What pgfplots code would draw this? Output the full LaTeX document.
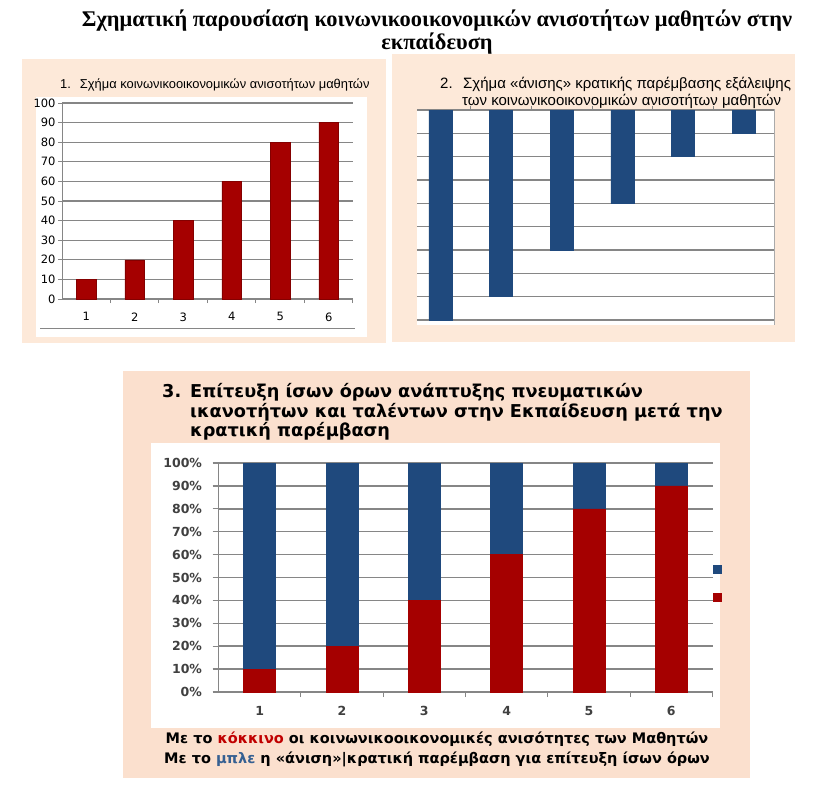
\documentclass[border=0pt]{standalone}
\usepackage{fontspec}
\setmainfont{Liberation Sans}
\newfontfamily\serifb{Liberation Serif}
\newfontfamily\dv{DejaVu Sans}
\usepackage{pgfplots}
\usepackage{pgfplotstable}
\pgfplotsset{compat=1.18}

\definecolor{peachA}{RGB}{253,233,217}
\definecolor{peachB}{RGB}{251,224,206}
\definecolor{barred}{RGB}{165,0,0}
\definecolor{barblue}{RGB}{31,73,125}
\definecolor{gridgray}{RGB}{134,134,134}
\definecolor{capred}{RGB}{192,0,0}
\definecolor{capblue}{RGB}{54,96,146}
\definecolor{ticktxt}{RGB}{64,64,64}

% share of the student (red) and the state intervention (blue), per group
\pgfplotstableread{
k red blue
1 10 90
2 20 80
3 40 60
4 60 40
5 80 20
6 90 10
}\ineq

\begin{document}
\begin{tikzpicture}
\begin{scope}[x=1pt,y=-1pt]
  \fill[white] (0,0) rectangle (832,787);
  \fill[peachA] (22,59) rectangle (386,343);
  \fill[peachA] (392,54) rectangle (795,342);
  \fill[peachB] (123,371) rectangle (750,778);
  \fill[white] (36,97) rectangle (367,337);
  \fill[white] (417,109) rectangle (774,325);
  \fill[white] (151,443) rectangle (720,728);

  \node[anchor=base, inner sep=0, font=\serifb\bfseries\fontsize{22.4}{26}\selectfont] at (437,26)
    {Σχηματική παρουσίαση κοινωνικοοικονομικών ανισοτήτων μαθητών στην};
  \node[anchor=base, inner sep=0, font=\serifb\bfseries\fontsize{22.4}{26}\selectfont] at (437,49)
    {εκπαίδευση};

  \node[anchor=base west, inner sep=0, font=\fontsize{12.9}{15}\selectfont] at (60,88)
    {1.\hspace{0.7em}Σχήμα κοινωνικοοικονομικών ανισοτήτων μαθητών};

  \node[anchor=base west, inner sep=0, font=\fontsize{15}{17}\selectfont] at (440,88)
    {2.\hspace{0.7em}Σχήμα «άνισης» κρατικής παρέμβασης εξάλειψης};
  \node[anchor=base west, inner sep=0, font=\fontsize{15}{17}\selectfont] at (462,105)
    {των κοινωνικοοικονομικών ανισοτήτων μαθητών};

  \node[anchor=base west, inner sep=0, font=\dv\bfseries\fontsize{17.7}{20}\selectfont] at (162,397) {3.};
  \node[anchor=base west, inner sep=0, font=\dv\bfseries\fontsize{17.7}{20}\selectfont] at (190,397)
    {Επίτευξη ίσων όρων ανάπτυξης πνευματικών};
  \node[anchor=base west, inner sep=0, font=\dv\bfseries\fontsize{17.7}{20}\selectfont] at (190,417)
    {ικανοτήτων και ταλέντων στην Εκπαίδευση μετά την};
  \node[anchor=base west, inner sep=0, font=\dv\bfseries\fontsize{17.7}{20}\selectfont] at (190,436)
    {κρατική παρέμβαση};

  \node[anchor=base, inner sep=0, font=\dv\bfseries\fontsize{14.5}{16}\selectfont] at (437,743)
    {Με το \textcolor{capred}{κόκκινο} οι κοινωνικοοικονομικές ανισότητες των Μαθητών};
  \node[anchor=base, inner sep=0, font=\dv\bfseries\fontsize{14.5}{16}\selectfont] at (437,763)
    {Με το \textcolor{capblue}{μπλε} η «άνιση»|κρατική παρέμβαση για επίτευξη ίσων όρων};

  % stray rule under chart 1 and right edge of chart 2
  \draw[gridgray, line width=1pt] (40,328) -- (355,328);
  \draw[gridgray!70, line width=0.8pt] (774,109) -- (774,325);
\end{scope}

% chart 1
\begin{axis}[
  at={(62pt,-299pt)}, anchor=south west,
  scale only axis, width=291pt, height=196pt,
  xmin=0.5, xmax=6.5, ymin=0, ymax=100, enlargelimits=false,
  axis x line=bottom, axis y line=left,
  axis line style={-, draw=gridgray, line width=1pt},
  ymajorgrids, grid style={draw=gridgray, line width=1.2pt},
  xtick={1,...,6}, ytick={0,10,...,100},
  minor xtick={1.5,2.5,...,6.5},
  major x tick style={draw=none},
  tick align=outside, major tick length=4pt, minor tick length=4pt,
  tick style={draw=gridgray, line width=1pt},
  /pgf/number format/assume math mode=true,
  tick label style={font=\dv\fontsize{11.5}{13}\selectfont},
  yticklabel style={xshift=1pt},
  xticklabel style={yshift=-6pt},
  ybar, bar width=19.5pt,
]
\addplot[fill=barred, draw=barred!80!black] table[x=k,y=red]{\ineq};
\end{axis}

% chart 2
\begin{axis}[
  at={(417pt,-110pt)}, anchor=north west,
  scale only axis, width=357pt, height=210pt,
  xmin=0.613, xmax=6.5, ymin=0, ymax=90, y dir=reverse, enlargelimits=false,
  axis line style={draw=none},
  ymajorgrids, grid style={draw=gridgray, line width=1.2pt},
  ytick={0,10,...,90}, yticklabels={}, ytick style={draw=none},
  xtick=\empty,
  ybar, bar width=23pt,
  clip=false,
]
\addplot[fill=barblue, draw=barblue] table[x=k,y=blue]{\ineq};
% category separators above the top rule
\pgfplotsinvokeforeach{1.5,2.5,3.5,4.5,5.5}{
  \draw[gridgray, line width=1pt] (axis cs:#1,0) -- ++(0pt,4pt);
}
\end{axis}

% chart 3
\begin{axis}[
  at={(218.5pt,-692pt)}, anchor=south west,
  scale only axis, width=494pt, height=229pt,
  xmin=0.5, xmax=6.5, ymin=0, ymax=100, enlargelimits=false,
  axis x line=bottom, axis y line=left,
  axis line style={-, draw=gridgray, line width=1.3pt},
  ymajorgrids, grid style={draw=gridgray, line width=1.5pt},
  xtick={1,...,6}, major x tick style={draw=none},
  minor xtick={1.5,2.5,...,6.5},
  ytick={0,10,...,100},
  yticklabels={0\%,10\%,20\%,30\%,40\%,50\%,60\%,70\%,80\%,90\%,100\%},
  tick align=outside, major tick length=6pt, minor tick length=5pt,
  tick style={draw=gridgray, line width=1.3pt},
  /pgf/number format/assume math mode=true,
  tick label style={font=\dv\bfseries\fontsize{12.5}{14}\selectfont, text=ticktxt},
  yticklabel style={xshift=-7pt},
  xticklabel style={yshift=-5pt},
  ybar stacked, bar width=32pt,
  reverse legend,
  legend style={at={(1,0.476)}, anchor=west, draw=none, fill=none,
    inner sep=0pt, row sep=20pt, nodes={inner sep=0pt}},
  legend image code/.code={\fill[#1] (0pt,-4pt) rectangle (8pt,4pt);},
]
\addplot[fill=barred, draw=barred] table[x=k,y=red]{\ineq};
\addlegendentry{}
\addplot[fill=barblue, draw=barblue] table[x=k,y=blue]{\ineq};
\addlegendentry{}
\end{axis}

\pgfresetboundingbox
\path[use as bounding box] (0,0) rectangle (832pt,-787pt);
\end{tikzpicture}
\end{document}
